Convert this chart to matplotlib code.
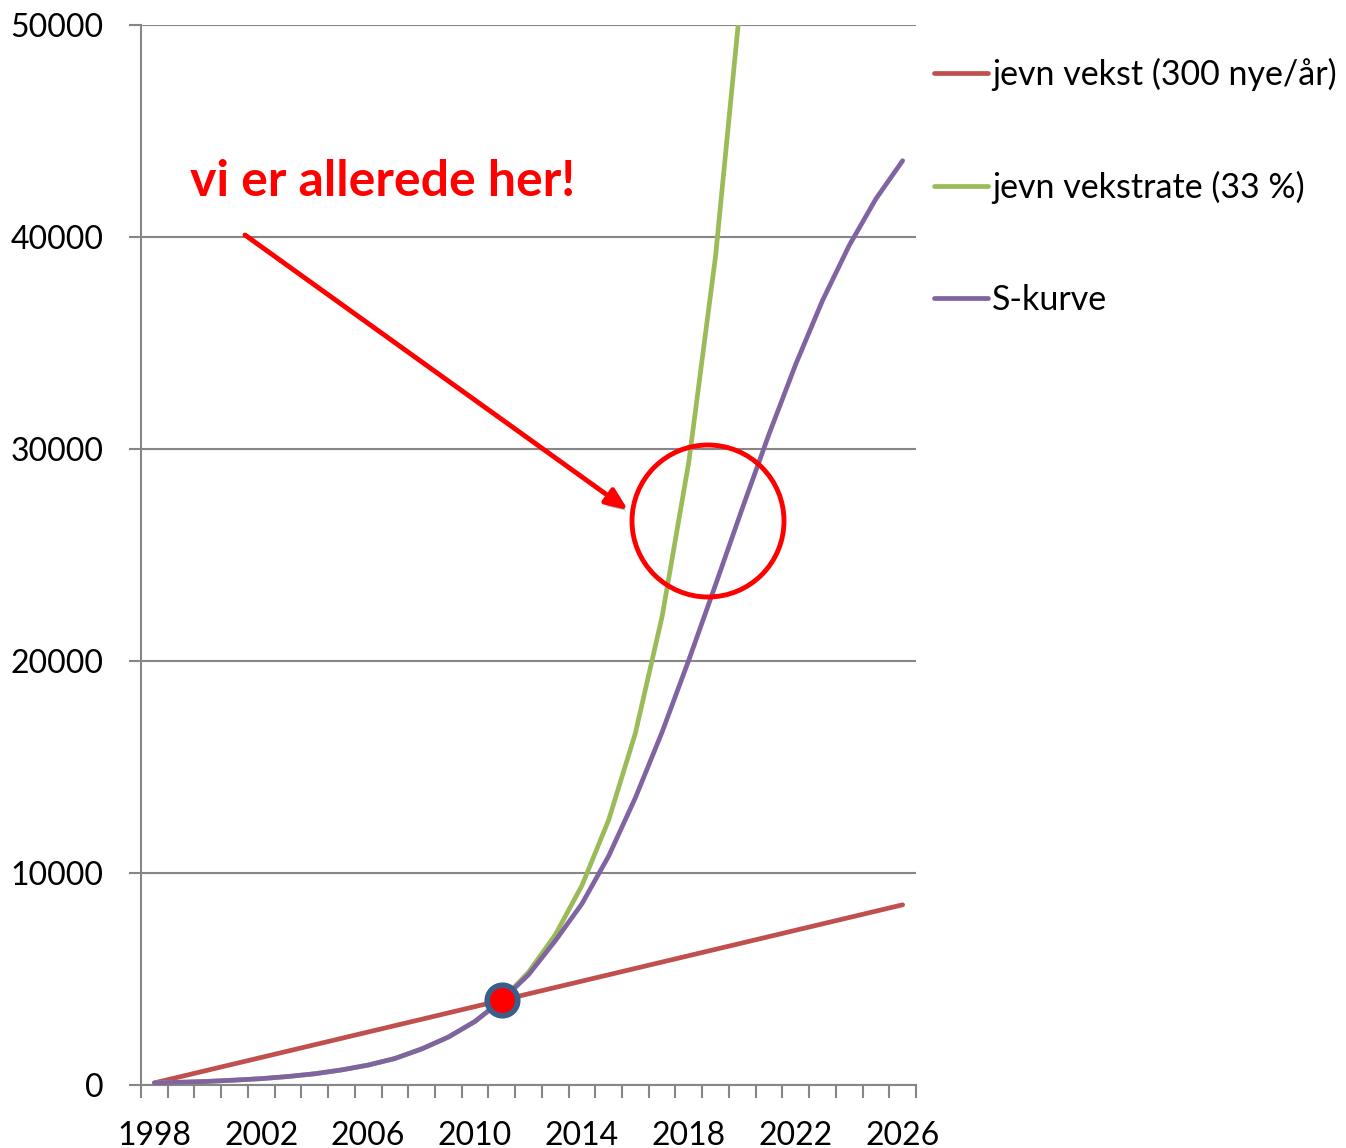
import matplotlib
matplotlib.use("Agg")
import matplotlib.pyplot as plt
import numpy as np
from matplotlib.patches import Ellipse
import matplotlib.patheffects as pe

years = list(range(1998, 2027))
linear = [100, 400, 700, 1000, 1300, 1600, 1900, 2200, 2500, 2800, 3100, 3400, 3700,
          4000, 4300, 4600, 4900, 5200, 5500, 5800, 6100, 6400, 6700, 7000, 7300,
          7600, 7900, 8200, 8500]
expo = [100, 130, 170, 230, 300, 400, 530, 710, 940, 1250, 1700, 2260, 3000, 4000,
        5320, 7080, 9410, 12500, 16600, 22100, 29400, 39100, 52000]
scurve = [100, 130, 170, 230, 300, 400, 530, 710, 940, 1250, 1700, 2260, 3000, 4000,
          5200, 6800, 8550, 10800, 13550, 16650, 20050, 23600, 27200, 30700, 34000,
          37000, 39600, 41800, 43600]
labels = ["jevn vekst (300 nye/år)", "jevn vekstrate (33 %)", "S-kurve"]
colors = ["#C0504D", "#9BBB59", "#8064A2"]
tick_years = [1998, 2002, 2006, 2010, 2014, 2018, 2022, 2026]
dot_year, dot_value = 2011, 4000

plt.rcParams['font.family'] = ['Lato', 'DejaVu Sans']

W, H = 1346, 1148
fig = plt.figure(figsize=(W / 100, H / 100), dpi=100)
ax = fig.add_axes([141 / W, 1 - 1085 / H, (916 - 141) / W, (1085 - 25) / H])

x = np.arange(len(years))
lw = 3.4
ax.plot(x[:len(linear)], linear, color=colors[0], lw=lw, label=labels[0],
        solid_capstyle='round', zorder=3)
ax.plot(x[:len(expo)], expo, color=colors[1], lw=lw, label=labels[1],
        solid_capstyle='round', zorder=4)
ax.plot(x[:len(scurve)], scurve, color=colors[2], lw=lw, label=labels[2],
        solid_capstyle='round', zorder=5)
ax.plot([years.index(dot_year)], [dot_value], 'o', ms=22, mfc='#FF0000',
        mec='#3A5F8B', mew=4, zorder=6)

ax.set_xlim(-0.5, len(years) - 0.5)
ax.set_ylim(0, 50000)
ax.set_yticks([0, 10000, 20000, 30000, 40000, 50000])
ax.set_yticklabels(["0", "10000", "20000", "30000", "40000", "50000"])
ax.set_xticks([years.index(y) for y in tick_years])
ax.set_xticklabels([str(y) for y in tick_years])
ax.set_xticks(np.arange(-0.5, len(years)), minor=True)
ax.tick_params(axis='x', which='major', length=0, pad=26, labelsize=23)
ax.tick_params(axis='x', which='minor', length=9, width=1.5, color='#868686')
ax.tick_params(axis='y', length=9, width=1.5, color='#868686', pad=18, labelsize=23)
ax.grid(axis='y', color='#868686', lw=1.5)
ax.set_axisbelow(True)
for s in ['top', 'right']:
    ax.spines[s].set_visible(False)
for s in ['left', 'bottom']:
    ax.spines[s].set_color('#868686')
    ax.spines[s].set_linewidth(1.5)

# legend
leg = fig.legend(loc='center left', bbox_to_anchor=(934 / W, 1 - 187 / H),
                 frameon=False, fontsize=24.5, handlelength=1.6, handletextpad=0.1,
                 labelspacing=2.35, borderpad=0, borderaxespad=0)

# annotation text
fig.text(190 / W, 1 - 182 / H, "vi er allerede her!", color='#FF0000',
         fontsize=36, fontweight='bold', va='center', ha='left')

# arrow
fig_tr = fig.transFigure
arr = ax.annotate("", xy=(628 / W, 1 - 510 / H), xytext=(245 / W, 1 - 235 / H),
                  xycoords='figure fraction', textcoords='figure fraction',
                  arrowprops=dict(arrowstyle='-|>,head_length=1.3,head_width=0.55',
                                  color='#FF0000', lw=3.5, shrinkA=0, shrinkB=0))
arr.arrow_patch.set_path_effects([pe.SimplePatchShadow(offset=(2, -3), shadow_rgbFace='#777777', alpha=0.5),
                                  pe.Normal()])

# circle
circ = Ellipse((708 / W, 1 - 521 / H), 152 / W, 152 / H, transform=fig_tr,
               fill=False, edgecolor='#FF0000', lw=3.5, zorder=10)
fig.patches.append(circ)

fig.savefig("out.png", dpi=100)
